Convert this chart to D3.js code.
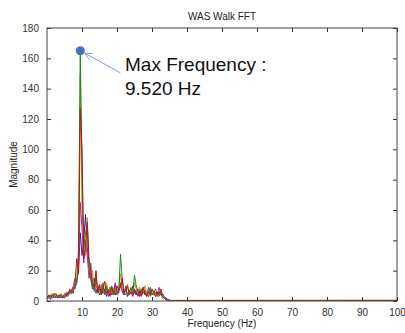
<!DOCTYPE html>
<html>
<head>
<meta charset="utf-8">
<script src="https://cdn.jsdelivr.net/npm/d3@7"></script>
<style>
  body { margin: 0; background: #fff; }
  svg { display: block; font-family: "Liberation Sans", Arial, sans-serif; }
</style>
</head>
<body>
<div id="chart"></div>
<script>
// frequency step of the spectrum (Hz) and the far end of the flat tail
const freqStep = 0.5;
const tailFreq = 100;

// magnitudes 0..36 Hz in 0.5 Hz steps, last value = tail level out to 100 Hz
const blueVals = [2,3,1,4,2,3,2,4,3,2, 3,5,4,6,5,8,10,14, 20,45,30,40,57,35,22,15,8,
  15,6,9,4,10,5,8,3,7,9,4,6,11,5,8, 12, 6,4,9,3,7,5,10, 6, 4,8,3,6,9,4,5,3,7,4,6, 5, 3,6,4,5, 3,2,1,0.5,0.3,0.2, 0.2];
const greenVals = [3,2,4,3,5,2,3,4,2,3, 4,3,6,5,7,9,8,12, 25,165,88,35,45,50,22,15,10,
  7,16,5,8,6,12,4,9,5,7,10,4,8,6,5, 31, 14,5,8,4,6,9,5, 17, 10,6,4,8,5,7,3,6,9,4,5, 8, 4,3,5,2, 2,1,0.5,0.4,0.3,0.2, 0.2];
const redVals = [2,4,3,2,3,5,3,2,4,3, 2,4,5,7,6,5,12,28, 18,127,100,28,35,52,28,20,12,
  9,20,6,10,4,8,13,5,7,3,9,6,4,10,7, 9, 15,5,7,10,4,6,3, 8, 5,3,7,4,9,5,3,6,4,8,5, 3, 6,4,8,3, 2,1,0.6,0.5,0.4,0.4, 0.5];
const magentaVals = [1,3,2,4,2,3,4,2,3,2, 5,4,3,8,6,10,15,12, 22,65,48,25,40,30,15,25,9,
  14,5,8,11,4,9,6,10,3,8,5,7,12,4,6, 11, 7,4,10,3,6,8,4, 5, 7,4,6,3,8,5,4,9,3,5,4, 6, 4,9,5,3, 2,1,0.4,0.3,0.3,0.2, 0.2];
const orangeVals = [3,2,3,5,3,2,4,3,5,3, 4,6,5,4,8,7,11,16, 35,150,60,42,30,55,20,18,20,
  6,10,8,5,11,7,4,12,6,9,5,8,4,7,9, 18, 8,6,4,11,5,7,4, 12, 8,5,9,4,6,10,5,3,6,4,7, 5, 3,5,7,4, 3,1,0.6,0.4,0.3,0.2, 0.2];

const seriesNames = ["blue", "magenta", "orange", "green", "red"];
const seriesVals = [blueVals, magentaVals, orangeVals, greenVals, redVals];
const seriesColors = ["#1f1fd0", "#b01fb0", "#c8901a", "#168a16", "#c81010"];

const xTicks = [10,20,30,40,50,60,70,80,90,100];
const yTicks = [0,20,40,60,80,100,120,140,160,180];

const maxFreq = 9.52;
const maxMag = 165;

//Margin
const margin = { top: 28, right: 8, bottom: 32, left: 47 };
const W = 405, H = 333;
const width = W - margin.left - margin.right;
const height = H - margin.top - margin.bottom;

const svg = d3.select("#chart").append("svg")
  .attr("width", W).attr("height", H);

const g = svg.append("g")
  .attr("transform", "translate(" + margin.left + "," + margin.top + ")");

const x = d3.scaleLinear().domain([0, 100]).range([0, width]);
const y = d3.scaleLinear().domain([0, 180]).range([height, 0]);

g.append("clipPath").attr("id", "clip")
  .append("rect").attr("width", width).attr("height", height);

// build point lists: evenly stepped bins, then the flat tail to 100 Hz
const series = seriesVals.map(function(vals, k) {
  const pts = vals.slice(0, vals.length - 1).map(function(v, i) {
    return [i * freqStep, v];
  });
  pts.push([tailFreq, vals[vals.length - 1]]);
  return { name: seriesNames[k], color: seriesColors[k], pts: pts };
});

const line = d3.line()
  .x(function(d) { return x(d[0]); })
  .y(function(d) { return y(d[1]); });

g.append("g").attr("clip-path", "url(#clip)")
  .selectAll("path")
  .data(series)
  .enter().append("path")
  .attr("fill", "none")
  .attr("stroke", function(d) { return d.color; })
  .attr("stroke-width", 1)
  .attr("stroke-linejoin", "round")
  .attr("d", function(d) { return line(d.pts); });

// axes with inward ticks on all sides (matlab box)
const axStyle = function(sel) {
  sel.select(".domain").remove();
  sel.selectAll(".tick line").attr("stroke", "#333");
  sel.selectAll(".tick text").attr("fill", "#333").style("font-size", "10px");
};

g.append("g").attr("transform", "translate(0," + height + ")")
  .call(d3.axisBottom(x).tickValues(xTicks).tickSizeInner(-4).tickSizeOuter(0).tickPadding(8))
  .call(axStyle);
g.append("g")
  .call(d3.axisTop(x).tickValues(xTicks).tickSizeInner(-4).tickSizeOuter(0).tickFormat(""))
  .call(axStyle);
g.append("g")
  .call(d3.axisLeft(y).tickValues(yTicks).tickSizeInner(-4).tickSizeOuter(0).tickPadding(8))
  .call(axStyle);
g.append("g").attr("transform", "translate(" + width + ",0)")
  .call(d3.axisRight(y).tickValues(yTicks).tickSizeInner(-4).tickSizeOuter(0).tickFormat(""))
  .call(axStyle);

g.append("rect")
  .attr("width", width).attr("height", height)
  .attr("fill", "none").attr("stroke", "#444").attr("stroke-width", 1);

// titles
svg.append("text")
  .attr("x", margin.left + width / 2).attr("y", 20)
  .attr("text-anchor", "middle").attr("fill", "#222")
  .style("font-size", "10px")
  .text("WAS Walk FFT");
svg.append("text")
  .attr("x", margin.left + width / 2).attr("y", 327)
  .attr("text-anchor", "middle").attr("fill", "#222")
  .style("font-size", "10px")
  .text("Frequency (Hz)");
svg.append("text")
  .attr("transform", "translate(17," + (margin.top + height / 2) + ") rotate(-90)")
  .attr("text-anchor", "middle").attr("fill", "#222")
  .style("font-size", "10px")
  .text("Magnitude");

// max annotation
const px = x(maxFreq), py = y(maxMag);
const ax0 = px + 40, ay0 = py + 22;
const ang = Math.atan2(py - ay0, px - ax0);
const tipX = px + 5 * Math.cos(ang + Math.PI), tipY = py + 5 * Math.sin(ang + Math.PI);
const ann = g.append("g").attr("stroke", "#7da2d6").attr("stroke-width", 1).attr("fill", "none");
ann.append("line").attr("x1", ax0).attr("y1", ay0).attr("x2", tipX).attr("y2", tipY);
[0.45, -0.45].forEach(function(da) {
  ann.append("line")
    .attr("x1", tipX).attr("y1", tipY)
    .attr("x2", tipX + 8 * Math.cos(ang + Math.PI + da))
    .attr("y2", tipY + 8 * Math.sin(ang + Math.PI + da));
});
g.append("circle").attr("cx", px).attr("cy", py).attr("r", 4.5).attr("fill", "#3f73c4");

const note = svg.append("text")
  .attr("x", 125).attr("y", 71)
  .attr("fill", "#111")
  .style("font-size", "19px");
note.append("tspan").attr("x", 125).text("Max Frequency :");
note.append("tspan").attr("x", 125).attr("dy", 24).text("9.520 Hz");
</script>
</body>
</html>
